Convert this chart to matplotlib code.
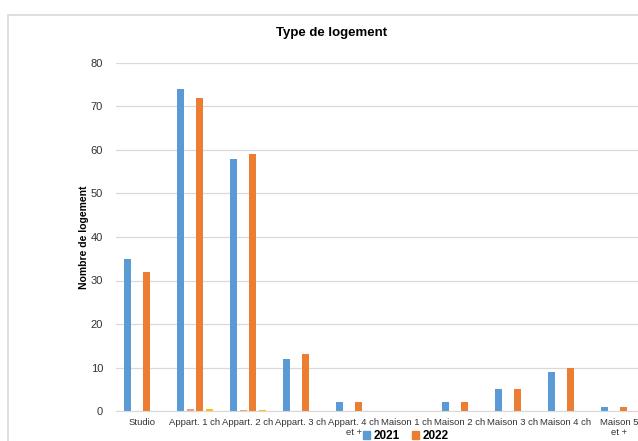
import numpy as np
import matplotlib.pyplot as plt
from matplotlib.patches import Rectangle, Patch

plt.rcParams["font.family"] = ["Liberation Sans", "DejaVu Sans"]

# données par type de logement
types = ["Studio", "Appart. 1 ch", "Appart. 2 ch", "Appart. 3 ch", "Appart. 4 ch\net +",
         "Maison 1 ch", "Maison 2 ch", "Maison 3 ch", "Maison 4 ch", "Maison 5\net +"]
v2021 = [35, 74, 58, 12, 2, 0, 2, 5, 9, 1]
v2022 = [32, 72, 59, 13, 2, 0, 2, 5, 10, 1]
# séries secondaires (quasi nulles)
p2021 = [0, 0.4, 0.3, 0, 0, 0, 0, 0, 0, 0]
p2022 = [0, 0.4, 0.3, 0, 0, 0, 0, 0, 0, 0]

c_bleu = "#5B9BD5"
c_orange = "#ED7D31"

fig = plt.figure(figsize=(6.38, 4.41), dpi=100)
fig.patches.append(Rectangle((8/638, -0.1), 1.0, (441-15)/441 + 0.1,
                             transform=fig.transFigure, fill=False,
                             edgecolor="#d9d9d9", linewidth=1.2))

ax = fig.add_axes([115.5/638, 30/441, 530/638, 348/441])
x = np.arange(len(types))
w = 0.135
step = 0.18
ax.bar(x - 1.5*step, v2021, w, color=c_bleu)
ax.bar(x - 0.5*step, p2021, w, color="#E9A07A")
ax.bar(x + 0.5*step, v2022, w, color=c_orange)
ax.bar(x + 1.5*step, p2022, w, color="#FFC000")

ax.set_xlim(-0.5, len(types) - 0.5)
ax.set_ylim(0, 80)
ax.set_yticks(range(0, 81, 10))
ax.set_xticks(x)
ax.set_xticklabels(types, fontsize=6.8, color="#333333", multialignment="center",
                   linespacing=1.1)
ax.tick_params(axis="y", labelsize=8, colors="#333333", length=0, pad=9)
ax.tick_params(axis="x", length=0, pad=5)
ax.grid(axis="y", color="#d9d9d9", linewidth=0.9)
ax.set_axisbelow(True)
for s in ["top", "right", "left"]:
    ax.spines[s].set_visible(False)
ax.spines["bottom"].set_color("#d9d9d9")

ax.set_ylabel("Nombre de logement", fontsize=7.5, fontweight="bold", labelpad=1)
fig.text(332/638, (441-33)/441, "Type de logement", ha="center", va="center",
         fontsize=9.5, fontweight="bold")

handles = [Patch(color=c_bleu, label="2021"), Patch(color=c_orange, label="2022")]
fig.legend(handles=handles, loc="center", bbox_to_anchor=(406/638, (441-436)/441),
           ncol=2, frameon=False, prop={"size": 8.5, "weight": "bold"},
           borderpad=0.05, handlelength=0.6, handleheight=0.6, handletextpad=0.3,
           columnspacing=1.0)

plt.savefig("out.png", dpi=100)
